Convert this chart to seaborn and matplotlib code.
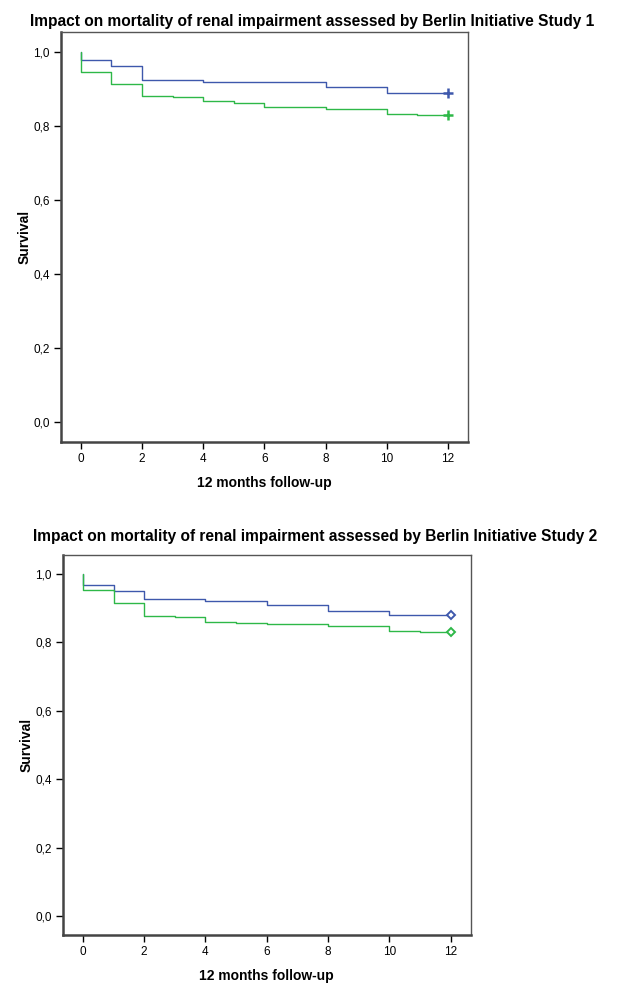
import numpy as np
import pandas as pd
import matplotlib
matplotlib.use("Agg")
import matplotlib.pyplot as plt
import seaborn as sns
from matplotlib.ticker import FuncFormatter

# --- data (Kaplan-Meier steps) ---
months_1_blue = [0, 0, 1, 2, 4, 8, 10, 12]
surv_1_blue = [1.0, 0.978, 0.964, 0.926, 0.919, 0.905, 0.890, 0.890]
months_1_green = [0, 0, 1, 2, 3, 4, 5, 6, 8, 10, 11, 12]
surv_1_green = [1.0, 0.947, 0.913, 0.882, 0.878, 0.867, 0.863, 0.852, 0.846, 0.833, 0.829, 0.829]

months_2_blue = [0, 0, 1, 2, 4, 6, 8, 10, 12]
surv_2_blue = [1.0, 0.967, 0.949, 0.926, 0.920, 0.908, 0.891, 0.879, 0.879]
months_2_green = [0, 0, 1, 2, 3, 4, 5, 6, 8, 10, 11, 12]
surv_2_green = [1.0, 0.952, 0.916, 0.877, 0.874, 0.860, 0.855, 0.852, 0.848, 0.834, 0.829, 0.829]

titles = ["Impact on mortality of renal impairment assessed by Berlin Initiative Study 1",
          "Impact on mortality of renal impairment assessed by Berlin Initiative Study 2"]
x_ticks = [0, 2, 4, 6, 8, 10, 12]
y_ticks = [0.0, 0.2, 0.4, 0.6, 0.8, 1.0]

BLUE = '#3e58ac'
GREEN = '#2eb848'


def make_df(mb, sb, mg, sg):
    d1 = pd.DataFrame({'month': mb, 'surv': sb, 'group': 'blue'})
    d2 = pd.DataFrame({'month': mg, 'surv': sg, 'group': 'green'})
    return pd.concat([d1, d2], ignore_index=True)


panels = [
    (make_df(months_1_blue, surv_1_blue, months_1_green, surv_1_green), '+'),
    (make_df(months_2_blue, surv_2_blue, months_2_green, surv_2_green), 'D'),
]

sns.set_style("white")
plt.rcParams['font.family'] = ['Liberation Sans', 'DejaVu Sans']
plt.rcParams['text.color'] = 'black'
plt.rcParams['axes.labelcolor'] = 'black'
plt.rcParams['xtick.color'] = 'black'
plt.rcParams['ytick.color'] = 'black'

fig = plt.figure(figsize=(6.26, 10), dpi=100)
axes_pos = [[0.0974, 0.558, 0.650, 0.410], [0.1006, 0.065, 0.651, 0.380]]
title_pad = [4, 10]

for i, (df, mk) in enumerate(panels):
    ax = fig.add_axes(axes_pos[i])
    sns.lineplot(data=df, x='month', y='surv', hue='group',
                 palette={'blue': BLUE, 'green': GREEN},
                 estimator=None, sort=False, drawstyle='steps-post',
                 linewidth=1.0, legend=False, ax=ax)
    # censor marks at end of follow-up
    last = df.groupby('group').tail(1)
    for _, r in last.iterrows():
        c = BLUE if r['group'] == 'blue' else GREEN
        if mk == '+':
            ax.plot(r['month'], r['surv'], marker='+', color=c, markersize=7, mew=1.8)
        else:
            ax.plot(r['month'], r['surv'], marker='D', color=c, markersize=4.5,
                    mfc='white', mew=1.4)

    ax.set_xlim(-0.65, 12.65)
    ax.set_ylim(-0.055, 1.055)
    ax.set_xticks(x_ticks)
    ax.set_yticks(y_ticks)
    ax.yaxis.set_major_formatter(FuncFormatter(lambda v, p: f"{v:.1f}".replace('.', ',')))
    ax.tick_params(axis='both', direction='out', length=5, width=1, color='black',
                   labelsize=8.5, pad=3, bottom=True, left=True)
    for s in ['left', 'bottom']:
        ax.spines[s].set_linewidth(1.8)
        ax.spines[s].set_color('#444444')
    for s in ['top', 'right']:
        ax.spines[s].set_linewidth(1.0)
        ax.spines[s].set_color('#555555')
    ax.set_title(titles[i], fontsize=11.2, fontweight='bold', pad=title_pad[i], x=0.618)
    ax.set_xlabel('12 months follow-up', fontsize=10, fontweight='bold', labelpad=8)
    ax.set_ylabel('Survival', fontsize=10, fontweight='bold', labelpad=1)

plt.savefig('out.png', dpi=100)
